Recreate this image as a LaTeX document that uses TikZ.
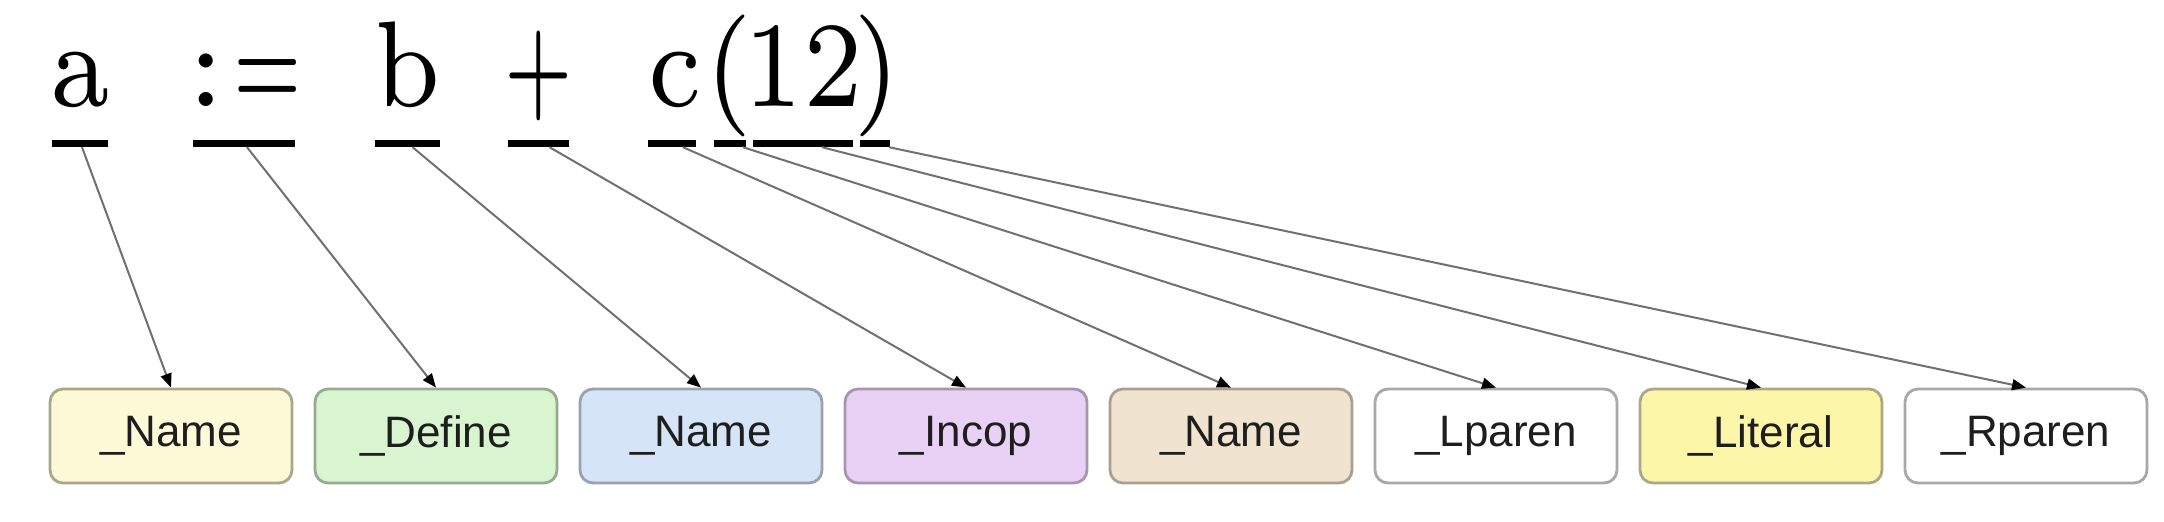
\documentclass[tikz,border=0pt]{standalone}
\usepackage{fontspec}
\newfontfamily\boxfont{Liberation Sans}
\newfontfamily\bigfont{lmroman7-regular}[Extension=.otf]
\newcommand{\narrowtok}[2][0.86]{\scalebox{#1}[1]{#2}}
\usetikzlibrary{arrows.meta}
\definecolor{f1}{HTML}{FEFAD8}\definecolor{d1}{HTML}{A8A78A}
\definecolor{f2}{HTML}{D8F5CF}\definecolor{d2}{HTML}{99AA92}
\definecolor{f3}{HTML}{D6E4F7}\definecolor{d3}{HTML}{98A2B0}
\definecolor{f4}{HTML}{E9D0F5}\definecolor{d4}{HTML}{A696AE}
\definecolor{f5}{HTML}{F0E3CF}\definecolor{d5}{HTML}{A9A090}
\definecolor{f7}{HTML}{FBF6A8}\definecolor{d7}{HTML}{ABA888}
\definecolor{dg}{HTML}{A8A8A8}
\definecolor{linecol}{HTML}{707070}
\definecolor{txt}{HTML}{1E1E1E}
\begin{document}
\begin{tikzpicture}[x=1pt,y=-1pt,
  tok/.style={inner sep=0pt,anchor=base,font=\bigfont\fontsize{122}{130}\selectfont},
  uline/.style={fill=black,draw=none,inner sep=0pt,minimum height=7pt},
  tokbox/.style={rounded corners=13pt,line width=2.8pt,minimum width=242pt,minimum height=94pt,inner sep=0pt,
     font=\boxfont\fontsize{44}{48}\selectfont,text=txt},
  arr/.style={draw=linecol,line width=2pt,-{Triangle[length=14pt,width=11pt,color=black]}}]
\useasboundingbox[fill=white] (0,0) rectangle (2164,522);
% source tokens
\node[tok] (sa) at (80,106) {\narrowtok{a}};
\node[tok] (sd) at (244,106) {:\kern8pt\narrowtok[0.64]{=}};
\node[tok] (sb) at (407.5,106) {\narrowtok{b}};
\node[tok] (sp) at (538.5,106) {\narrowtok[0.64]{+}};
\node[tok] (sc) at (675,106) {\narrowtok{c}};
\node[tok] (sl) at (729,106) {\narrowtok{(}};
\node[tok] (sn) at (803,106) {\narrowtok{12}};
\node[tok] (sr) at (877,106) {\narrowtok{)}};
% underlines
\node[uline,minimum width=56pt] (ua) at (80,143.5) {};
\node[uline,minimum width=102pt] (ud) at (244,143.5) {};
\node[uline,minimum width=65pt] (ub) at (407.5,143.5) {};
\node[uline,minimum width=61pt] (up) at (538.5,143.5) {};
\node[uline,minimum width=48pt] (uc) at (672,143.5) {};
\node[uline,minimum width=32pt] (ul) at (730,143.5) {};
\node[uline,minimum width=100pt] (un) at (803,143.5) {};
\node[uline,minimum width=30pt] (ur) at (875,143.5) {};
% tails
\coordinate (ta) at ([xshift=2pt]ua.south);
\coordinate (td) at ([xshift=3pt]ud.south);
\coordinate (tb) at ([xshift=5pt]ub.south);
\coordinate (tp) at ([xshift=11pt]up.south);
\coordinate (tc) at ([xshift=11pt]uc.south);
\coordinate (tl) at ([xshift=13pt]ul.south);
\coordinate (tn) at ([xshift=19pt]un.south);
\coordinate (tr) at ([xshift=14pt]ur.south);
% token boxes
\node[tokbox,fill=f1,draw=d1] (b1) at (171,436) {\_Name};
\node[tokbox,fill=f2,draw=d2] (b2) at (436,436) {\_Define};
\node[tokbox,fill=f3,draw=d3] (b3) at (701,436) {\_Name};
\node[tokbox,fill=f4,draw=d4] (b4) at (966,436) {\_Incop};
\node[tokbox,fill=f5,draw=d5] (b5) at (1231,436) {\_Name};
\node[tokbox,fill=white,draw=dg] (b6) at (1496,436) {\_Lparen};
\node[tokbox,fill=f7,draw=d7] (b7) at (1761,436) {\_Literal};
\node[tokbox,fill=white,draw=dg] (b8) at (2026,436) {\_Rparen};
% connectors
\draw[arr] (ta) -- (b1.north);
\draw[arr] (td) -- (b2.north);
\draw[arr] (tb) -- (b3.north);
\draw[arr] (tp) -- (b4.north);
\draw[arr] (tc) -- (b5.north);
\draw[arr] (tl) -- (b6.north);
\draw[arr] (tn) -- (b7.north);
\draw[arr] (tr) -- (b8.north);
\end{tikzpicture}
\end{document}
